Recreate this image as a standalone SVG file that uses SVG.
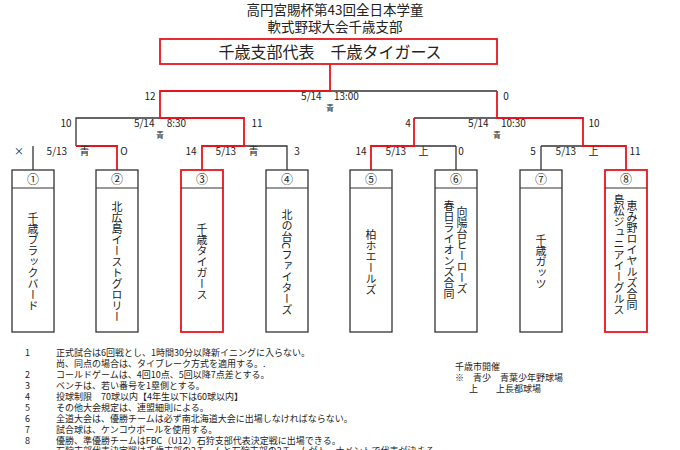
<svg xmlns="http://www.w3.org/2000/svg" width="680" height="450" viewBox="0 0 680 450">
<style>
text{font-family:"Noto Sans CJK JP","Liberation Sans",sans-serif;fill:#222}
.k{stroke:#333;stroke-width:1.3;fill:none}
.r{stroke:#e8141c;stroke-width:1.8;fill:none}
.s{font-size:10px}
.t{font-size:8px}
.n{font-size:9px}
.v{font-size:11px;writing-mode:vertical-rl;text-anchor:middle}
.bx{fill:#fff;stroke:#333;stroke-width:1.3}
.bxr{fill:#fff;stroke:#e8141c;stroke-width:1.8}
</style>
<rect width="680" height="450" fill="#fff"/>
<g id="title" text-anchor="middle" font-size="13.5">
<text x="335" y="15">高円宮賜杯第43回全日本学童</text>
<text x="335" y="32">軟式野球大会千歳支部</text>
</g>
<g id="champion"><rect x="160" y="39" width="337" height="25" class="bxr"/><text x="330" y="58" text-anchor="middle" font-size="16">千歳支部代表　千歳タイガース</text></g>
<g id="connectors">
<path class="k" d="M330 91H497M76 146V118H160M414 118H497M76 146H117M244 146H287V170M456 146H371M456 146V170M541 146H583M541 146V170M33 146V170"/>
<path class="r" d="M330 64V91H160V118H244V146H202V170M497 91V118H583V146H626V170M414 118V146H371V170M76 146H117V170"/>
</g>
<g id="labels" text-anchor="middle">
<text class="s" x="150" y="100">12</text><text class="s" x="506" y="100">0</text>
<text class="s" x="330" y="100" xml:space="preserve">5/14　 13:00</text><text class="t" x="330" y="111">青</text>
<text class="s" x="66" y="127">10</text><text class="s" x="160" y="127" xml:space="preserve">5/14　 8:30</text><text class="t" x="160" y="138">青</text><text class="s" x="257" y="127">11</text>
<text class="s" x="408" y="127">4</text><text class="s" x="497" y="127" xml:space="preserve">5/14　 10:30</text><text class="t" x="497" y="138">青</text><text class="s" x="594" y="127">10</text>
<text class="s" x="19" y="155">×</text><text class="s" x="68" y="155" xml:space="preserve">5/13　 青</text><text class="s" x="124" y="155">O</text>
<text class="s" x="191" y="155">14</text><text class="s" x="237" y="155" xml:space="preserve">5/13　 青</text><text class="s" x="297" y="155">3</text>
<text class="s" x="361" y="155">14</text><text class="s" x="407" y="155" xml:space="preserve">5/13　 上</text><text class="s" x="461" y="155">0</text>
<text class="s" x="533" y="155">5</text><text class="s" x="577" y="155" xml:space="preserve">5/13　 上</text><text class="s" x="635" y="155">11</text>
</g>
<g id="team1"><rect x="12" y="170" width="42" height="162" class="bx"/><line x1="12" y1="188" x2="54" y2="188" stroke="#333"/><text x="33" y="184" text-anchor="middle" font-size="12">①</text><text class="v" x="33" y="262">千歳ブラックバード</text></g>
<g id="team2"><rect x="96" y="170" width="42" height="162" class="bx"/><line x1="96" y1="188" x2="138" y2="188" stroke="#333"/><text x="117" y="184" text-anchor="middle" font-size="12">②</text><text class="v" x="117" y="262">北広島イーストグロリー</text></g>
<g id="team3"><rect x="181" y="170" width="42" height="162" class="bxr"/><line x1="181" y1="188" x2="223" y2="188" stroke="#333"/><text x="202" y="184" text-anchor="middle" font-size="12">③</text><text class="v" x="202" y="262">千歳タイガース</text></g>
<g id="team4"><rect x="266" y="170" width="42" height="162" class="bx"/><line x1="266" y1="188" x2="308" y2="188" stroke="#333"/><text x="287" y="184" text-anchor="middle" font-size="12">④</text><text class="v" x="287" y="262">北の台Cファイターズ</text></g>
<g id="team5"><rect x="350" y="170" width="42" height="162" class="bx"/><line x1="350" y1="188" x2="392" y2="188" stroke="#333"/><text x="371" y="184" text-anchor="middle" font-size="12">⑤</text><text class="v" x="371" y="262">柏ホエールズ</text></g>
<g id="team6"><rect x="435" y="170" width="42" height="162" class="bx"/><line x1="435" y1="188" x2="477" y2="188" stroke="#333"/><text x="456" y="184" text-anchor="middle" font-size="12">⑥</text><text class="v" x="462" y="250">向陽台ヒーローズ</text><text class="v" x="449" y="250">春日ライオンズ合同</text></g>
<g id="team7"><rect x="520" y="170" width="42" height="162" class="bx"/><line x1="520" y1="188" x2="562" y2="188" stroke="#333"/><text x="541" y="184" text-anchor="middle" font-size="12">⑦</text><text class="v" x="541" y="262">千歳ガッツ</text></g>
<g id="team8"><rect x="605" y="170" width="42" height="162" class="bxr"/><line x1="605" y1="188" x2="647" y2="188" stroke="#333"/><text x="626" y="184" text-anchor="middle" font-size="12">⑧</text><text class="v" x="632" y="255">恵み野ロイヤルズ合同</text><text class="v" x="619" y="255">島松ジュニアイーグルス</text></g>
<g id="notes" class="n">
<text x="25" y="356">1</text><text x="56" y="356">正式試合は6回戦とし、1時間30分以降新イニングに入らない。</text>
<text x="56" y="367">尚、同点の場合は、タイブレーク方式を適用する。.</text>
<text x="25" y="378">2</text><text x="56" y="378">コールドゲームは、4回10点、5回以降7点差とする。</text>
<text x="25" y="389">3</text><text x="56" y="389">ベンチは、若い番号を1塁側とする。</text>
<text x="25" y="400">4</text><text x="56" y="400">投球制限　70球以内【4年生以下は60球以内】</text>
<text x="25" y="411">5</text><text x="56" y="411">その他大会規定は、連盟細則による。</text>
<text x="25" y="422">6</text><text x="56" y="422">全道大会は、優勝チームは必ず南北海道大会に出場しなければならない。</text>
<text x="25" y="433">7</text><text x="56" y="433">試合球は、ケンコウボールを使用する。</text>
<text x="25" y="444">8</text><text x="56" y="444">優勝、準優勝チームはFBC（U12）石狩支部代表決定戦に出場できる。</text>
<text x="56" y="454">石狩支部代表決定戦は千歳支部の2チームと石狩支部の2チームがトーナメントで代表が決まる。</text>
<text x="455" y="370">千歳市開催</text>
<text x="455" y="381">※　青少　青葉少年野球場</text>
<text x="469" y="392">上　　上長都球場</text>
</g>
</svg>
